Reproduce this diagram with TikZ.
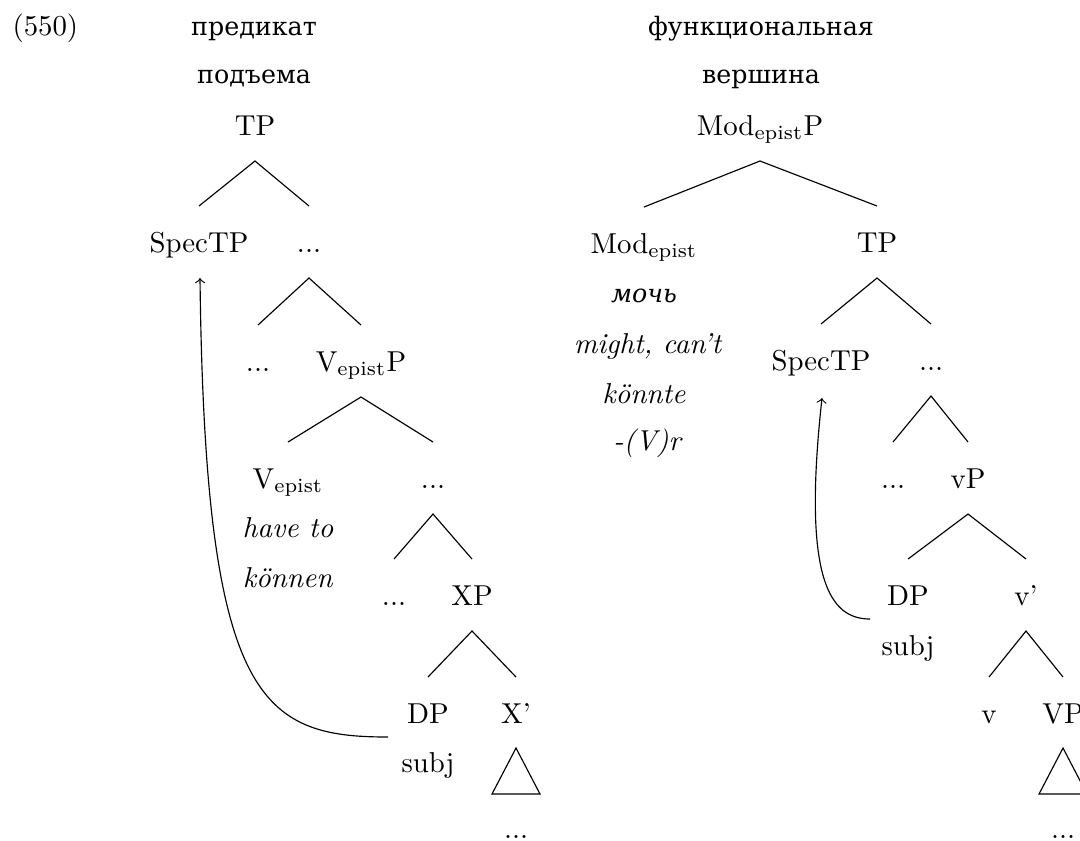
\documentclass[tikz,border=0pt]{standalone}
\usepackage{fontspec}
\newfontfamily\cyr[Scale=0.88]{DejaVu Serif}
\usetikzlibrary{calc}
\begin{document}
\begin{tikzpicture}[x=0.3472pt,y=-0.3472pt,
  lbl/.style={anchor=base,inner sep=0pt,font=\fontsize{10}{12}\selectfont},
  edge/.style={line width=0.4pt},
  move/.style={line width=0.4pt,->}]
\useasboundingbox (0,0) rectangle (1080,840);

% binary branching: parent, left child, right child
\newcommand\tbranch[3]{%
  \draw[edge] ($(#2.base)+(0,-46)$) -- ($(#1.base)+(0,26)$) -- ($(#3.base)+(0,-46)$);}
% roof under a node
\newcommand\troof[1]{%
  \draw[edge] ($(#1.base)+(0,25)$) -- ($(#1.base)+(-24,71)$) -- ($(#1.base)+(24,71)$) -- cycle;}

% ---------- example number ----------
\node[lbl,anchor=base west] (ex) at (12,35) {(550)};

% ---------- raising predicate ----------
\node[lbl] (h1) at (254,35) {\cyr предикат};
\node[lbl] (h2) at (254,83) {\cyr подъема};
\node[lbl] (tpL) at (255,135) {TP};
\node[lbl] (specL) at (199,252) {SpecTP};
\node[lbl] (d1) at (309,252) {...};
\node[lbl] (d2) at (258,371) {...};
\node[lbl] (vepP) at (361,371) {V$_{\mathrm{epist}}$P};
\node[lbl] (vep) at (288,488) {V$_{\mathrm{epist}}$};
\node[lbl] (d3) at (433,488) {...};
\node[lbl] (haveto) at (288,537) {\textit{have to}};
\node[lbl] (koennen) at (288,587) {\textit{können}};
\node[lbl] (d4) at (394,605) {...};
\node[lbl] (xp) at (472,605) {XP};
\node[lbl] (dpL) at (428,723) {DP};
\node[lbl] (xbar) at (516,723) {X'};
\node[lbl] (subjL) at (428,772) {subj};
\node[lbl] (d5) at (516,838) {...};

\tbranch{tpL}{specL}{d1}
\tbranch{d1}{d2}{vepP}
\tbranch{vepP}{vep}{d3}
\tbranch{d3}{d4}{xp}
\tbranch{xp}{dpL}{xbar}
\troof{xbar}

\coordinate (tailL) at (388,737);
\coordinate (tipL) at ($(specL.base)+(1,26)$);
\draw[move] (tailL) .. controls (260,737) and (205,700) .. (tipL);

% ---------- functional head ----------
\node[lbl] (h3) at (761,35) {\cyr функциональная};
\node[lbl] (h4) at (761,83) {\cyr вершина};
\node[lbl] (modP) at (760,135) {Mod$_{\mathrm{epist}}$P};
\node[lbl] (mod) at (644,253) {Mod$_{\mathrm{epist}}$};
\node[lbl] (tpR) at (877,252) {TP};
\node[lbl] (moch) at (644,302) {\cyr\itshape мочь};
\node[lbl] (might) at (648,353) {\textit{might, can't}};
\node[lbl] (koennte) at (644,403) {\textit{könnte}};
\node[lbl] (vr) at (648,450) {\textit{-(V)r}};
\node[lbl] (specR) at (821,370) {SpecTP};
\node[lbl] (d6) at (931,370) {...};
\node[lbl] (d7) at (893,488) {...};
\node[lbl] (vp) at (968,488) {vP};
\node[lbl] (dpR) at (908,605) {DP};
\node[lbl] (vbar) at (1026,605) {v'};
\node[lbl] (subjR) at (908,655) {subj};
\node[lbl] (v) at (989,723) {v};
\node[lbl] (VP) at (1063,723) {VP};
\node[lbl] (d8) at (1063,838) {...};

\tbranch{modP}{mod}{tpR}
\tbranch{tpR}{specR}{d6}
\tbranch{d6}{d7}{vp}
\tbranch{vp}{dpR}{vbar}
\tbranch{vbar}{v}{VP}
\troof{VP}

\coordinate (tailR) at (870,619);
\coordinate (tipR) at ($(specR.base)+(1,28)$);
\draw[move] (tailR) .. controls (830,619) and (802,580) .. (tipR);
\end{tikzpicture}
\end{document}
